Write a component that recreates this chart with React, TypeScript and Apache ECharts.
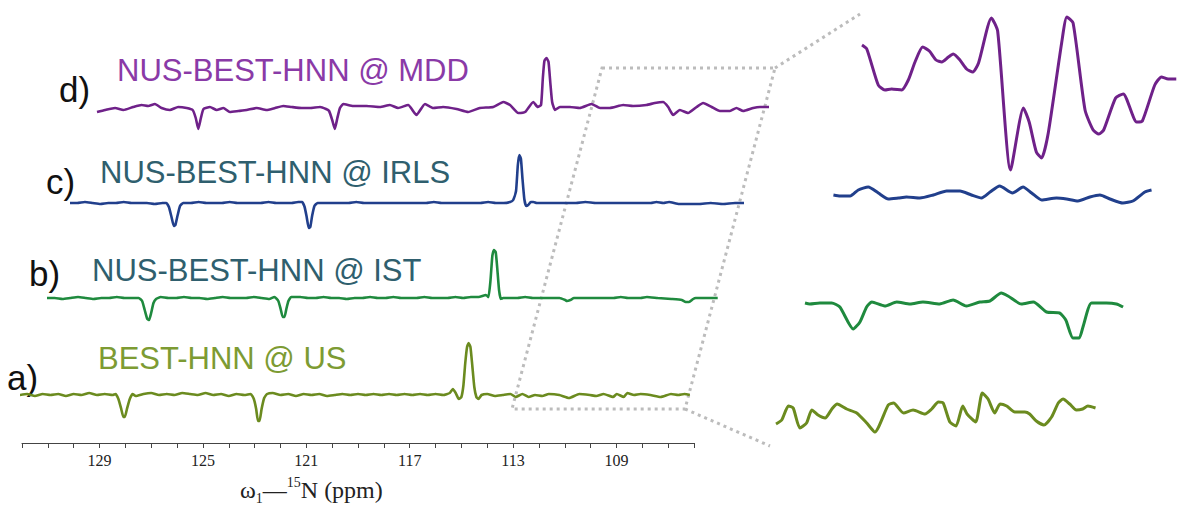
import React, { useEffect, useRef } from "react";
import * as echarts from "echarts";

// ---------- Data (ppm, intensity) ----------
const TICK_LABELS = [129, 125, 121, 117, 113, 109];

const SPEC_A_US = [
  [132.08, 0], [131.8, 1], [131.5, -1], [131.2, 1], [130.9, 0], [130.6, 1], [130.3, -1], [130.0, 1], [129.7, 0], [129.4, 2],
  [129.1, 0], [128.8, 1], [128.5, 0], [128.38, 1], [128.27, -4], [128.16, -14], [128.08, -22], [128.02, -22], [127.94, -14],
  [127.83, -4], [127.72, 1], [127.6, -1], [127.3, 1], [127.0, 2], [126.7, 0], [126.4, 1], [126.1, 0], [125.8, 2], [125.5, 1],
  [125.2, 0], [124.9, 2], [124.6, 0], [124.3, 1], [124.0, -1], [123.7, 1], [123.4, 0], [123.15, 1], [123.03, -4], [122.94, -14],
  [122.87, -26], [122.81, -26], [122.73, -14], [122.63, -3], [122.52, 1], [122.3, 2], [122.0, 0], [121.7, 1], [121.4, -1],
  [121.1, 1], [120.8, 0], [120.5, 1], [120.2, -1], [119.9, 0], [119.6, 1], [119.3, 0], [119.0, 1], [118.7, 0], [118.4, 1],
  [118.1, 0], [117.8, 1], [117.5, 0], [117.2, 1], [116.9, 0], [116.6, 1], [116.3, 0], [116.0, 1], [115.7, 0], [115.45, 2],
  [115.33, 6], [115.22, 2], [115.1, -4], [115.0, -2], [114.92, 10], [114.85, 32], [114.78, 48], [114.72, 52], [114.65, 48],
  [114.58, 30], [114.5, 8], [114.42, -2], [114.34, -4], [114.22, 0], [114.0, 1], [113.7, -1], [113.4, 0], [113.1, 1],
  [112.9, -2], [112.64, 1], [112.4, -2], [112.15, 0], [111.87, -1], [111.62, 1], [111.21, 0], [110.83, -3], [110.44, 1],
  [110.03, 0], [109.78, -1], [109.5, 1], [109.13, -2], [108.99, 1], [108.72, -2], [108.58, 2], [108.32, 0], [108.07, 1],
  [107.69, 0], [107.29, -2], [106.89, 1], [106.61, 0], [106.37, 1], [106.16, 0],
];

const SPEC_B_IST = [
  [132.0, 0], [131.7, 0], [131.4, -1], [131.1, 0], [130.8, 1], [130.5, 0], [130.2, -1], [129.9, 0], [129.6, 0], [129.3, 1],
  [129.0, 0], [128.7, 0], [128.45, 0], [128.32, -3], [128.22, -12], [128.12, -21], [128.05, -22], [127.97, -15], [127.88, -5],
  [127.78, -1], [127.6, 1], [127.3, 0], [127.0, 0], [126.7, 1], [126.4, 0], [126.1, 0], [125.8, -1], [125.5, 0], [125.2, 1],
  [124.9, 0], [124.6, 0], [124.3, 0], [124.0, 1], [123.7, 0], [123.4, -1], [123.2, 1], [123.05, -3], [122.96, -11],
  [122.88, -19], [122.81, -19], [122.74, -11], [122.66, -3], [122.55, 1], [122.2, 1], [121.9, 0], [121.6, 0], [121.3, 1],
  [121.0, 0], [120.7, 0], [120.4, -1], [120.1, 0], [119.8, 0], [119.5, 1], [119.2, 0], [118.9, 0], [118.6, 1], [118.3, 0],
  [118.0, 0], [117.7, 0], [117.4, 1], [117.1, 0], [116.8, 0], [116.5, 0], [116.2, 1], [115.9, 0], [115.6, 1], [115.3, 1],
  [115.02, 3], [114.92, 1], [114.84, 18], [114.77, 42], [114.71, 48], [114.64, 46], [114.58, 30], [114.51, 8], [114.44, -1],
  [114.35, 0], [114.1, 0], [113.8, 0], [113.5, 1], [113.2, 0], [112.9, 0], [112.34, 0], [112.17, 0], [111.95, -2],
  [111.89, -3], [111.75, -2], [111.61, 0], [111.23, 0], [110.7, 0], [110.08, 0], [109.8, 1], [109.52, 0], [109.03, 0],
  [108.79, 1], [108.37, 0], [107.84, -1], [107.44, -2], [107.29, -4], [107.16, -4], [107.0, -1], [106.9, 0], [106.59, 0],
  [106.05, 0],
];

const SPEC_C_IRLS = [
  [132.08, 0], [131.8, 0], [131.5, 1], [131.2, 0], [130.9, -1], [130.6, 0], [130.3, 0], [130.0, 1], [129.7, 0], [129.4, 0],
  [129.1, 0], [128.8, -1], [128.5, 0], [128.35, 0], [128.25, -4], [128.15, -14], [128.06, -23], [128.0, -22], [127.92, -13],
  [127.82, -3], [127.7, 0], [127.4, 0], [127.1, 1], [126.8, 0], [126.5, 0], [126.2, 0], [125.9, 1], [125.6, 0], [125.3, 0],
  [125.0, 0], [124.7, 0], [124.4, 1], [124.1, 0], [123.8, 0], [123.5, 0], [123.25, 1], [123.1, 1], [123.0, -4],
  [122.92, -14], [122.84, -25], [122.78, -24], [122.71, -13], [122.62, -3], [122.5, 0], [122.2, 0], [121.9, 0], [121.6, 0],
  [121.3, 0], [121.0, 1], [120.7, 0], [120.4, 0], [120.1, 0], [119.8, 0], [119.5, 0], [119.2, 0], [118.9, 0], [118.6, 0],
  [118.3, 0], [118.0, 1], [117.7, 0], [117.4, 0], [117.1, 0], [116.8, 0], [116.5, 0], [116.2, 0], [115.9, 1], [115.6, 0],
  [115.3, 0], [115.05, 1], [114.93, 3], [114.82, 12], [114.75, 38], [114.69, 48], [114.63, 44], [114.57, 24], [114.5, 4],
  [114.43, -3], [114.35, -2], [114.25, 1], [114.15, 1], [114.02, 0], [113.7, 0], [113.4, 0], [113.1, 0], [112.9, 0],
  [112.5, 0], [112.14, 1], [111.72, 0], [111.3, 0], [110.78, 0], [110.36, 0], [109.98, 0], [109.6, 0], [109.39, 1],
  [109.12, 0], [108.9, 1], [108.51, -1], [107.75, -1], [107.29, 0], [106.81, -1], [106.35, 0], [106.0, 0],
];

const SPEC_D_MDD = [
  [132.0, -4], [131.69, -2], [131.3, 0], [130.98, -2], [130.6, 1], [130.27, 3], [130.02, 2], [129.76, 4], [129.5, 0],
  [129.18, -2], [128.86, 1], [128.53, 0], [128.3, -2], [128.18, -10], [128.08, -21], [127.98, -10], [127.88, -1],
  [127.63, 1], [127.37, -2], [127.11, 0], [126.86, -4], [126.53, -3], [126.21, -2], [125.82, 0], [125.44, -2], [125.11, 0],
  [124.79, 2], [124.47, 1], [124.08, 0], [123.76, 0], [123.37, 1], [123.14, -1], [123.02, -3], [122.9, -12], [122.8, -21],
  [122.7, -10], [122.6, 0], [122.47, 4], [122.09, 2], [121.57, 2], [121.05, 1], [120.67, 3], [120.35, 0], [119.96, 3],
  [119.64, -7], [119.31, 4], [118.99, 0], [118.61, 1], [118.09, -1], [117.64, -4], [117.19, 0], [116.67, 1], [116.28, 6],
  [116.02, 3], [115.7, -5], [115.44, -4], [115.12, 6], [114.95, 1], [114.82, 3], [114.75, 30], [114.69, 47], [114.61, 50],
  [114.53, 46], [114.46, 25], [114.39, 6], [114.28, -2], [114.09, 1], [113.7, 1], [113.32, 0], [112.87, 4], [112.54, 0],
  [112.16, 0], [111.64, 3], [111.26, 2], [110.74, 3], [110.42, 5], [110.1, 6], [109.9, 1], [109.71, -7], [109.45, -2],
  [109.13, -5], [108.8, 1], [108.55, 5], [108.22, 1], [107.9, -3], [107.51, -3], [107.26, 0], [107.0, -3], [106.61, 0],
  [106.35, 1], [106.0, 1],
];

// Zoomed region (112.9 – 106.2 ppm), magnified
const ZOOM_A_US = [
  [112.9, -14], [112.78, -10], [112.64, 4], [112.54, 2], [112.4, -18], [112.26, -13], [112.15, 0], [112.02, -5],
  [111.87, -8], [111.73, 1], [111.62, 6], [111.42, 1], [111.21, -3], [111.0, -13], [110.83, -22], [110.55, 5],
  [110.44, 7], [110.23, -3], [110.03, 0], [109.78, -4], [109.64, 1], [109.5, 8], [109.4, 7], [109.26, -12],
  [109.13, -16], [108.99, 4], [108.9, -4], [108.72, -12], [108.58, 17], [108.46, 11], [108.32, -3], [108.21, 6],
  [108.07, 4], [107.9, -2], [107.69, -2], [107.59, -4], [107.45, -11], [107.29, -15], [107.13, -7], [106.99, 7],
  [106.89, 11], [106.75, 6], [106.61, 0], [106.48, 1], [106.37, 4], [106.21, 2],
];
const ZOOM_B_IST = [
  [112.9, 2], [112.8, 1], [112.59, 2], [112.34, 2], [112.17, -2], [111.89, -24], [111.75, -17], [111.61, -2], [111.5, 3],
  [111.23, -1], [110.98, 3], [110.7, 1], [110.43, 3], [110.08, 1], [109.8, 5], [109.52, -1], [109.24, 3], [109.03, 4],
  [108.79, 12], [108.65, 9], [108.37, 1], [108.12, 3], [107.84, -7], [107.57, -8], [107.44, -15], [107.29, -33],
  [107.16, -33], [107.08, -22], [106.9, 2], [106.59, 2], [106.38, 1], [106.24, -2],
];
const ZOOM_C_IRLS = [
  [112.87, 0], [112.73, -1], [112.52, -1], [112.35, 5], [112.14, 8], [111.93, 2], [111.72, -4], [111.51, -3], [111.34, -2],
  [111.06, -3], [110.78, 0], [110.5, 4], [110.22, 4], [109.98, 0], [109.77, -3], [109.59, 3], [109.39, 9], [109.12, 2],
  [108.9, 8], [108.72, 2], [108.51, -5], [108.2, -3], [107.99, -4], [107.75, -6], [107.5, -2], [107.29, 0], [107.08, -4],
  [106.81, -8], [106.6, -6], [106.35, 3], [106.21, 5],
];
const ZOOM_D_MDD = [
  [112.9, 45], [112.8, 41], [112.56, 5], [112.42, 0], [112.28, 1], [112.07, 0], [111.93, 10], [111.79, 28], [111.63, 43],
  [111.49, 39], [111.35, 30], [111.23, 28], [111.09, 33], [110.99, 36], [110.85, 30], [110.71, 21], [110.58, 18],
  [110.46, 27], [110.19, 72], [110.06, 59], [109.79, -80], [109.52, -18], [109.4, -32], [109.25, -62], [109.14, -68],
  [109.0, -43], [108.72, 47], [108.61, 73], [108.48, 67], [108.23, -20], [108.06, -40], [107.94, -44], [107.84, -40],
  [107.59, -8], [107.43, -4], [107.15, -32], [107.03, -31], [106.77, 5], [106.63, 13], [106.49, 11], [106.32, 11],
];

const PANEL_LETTERS = ["a)", "b)", "c)", "d)"];
const PANEL_TITLES = ["BEST-HNN @ US", "NUS-BEST-HNN @ IST", "NUS-BEST-HNN @ IRLS", "NUS-BEST-HNN @ MDD"];

// ---------- styling ----------
const TRACE_COLORS = ["#6b8b1f", "#1f8a3e", "#213f8c", "#6f2189"];
const TITLE_COLORS = ["#7d9b33", "#2f5f6e", "#2f5f6e", "#8a3aa7"];
const MAIN_LEFT = [22, 47, 72, 97];
const MAIN_TOP = [333, 236, 141, 46];
const ZOOM_GRIDS = [
  { left: 776, top: 391, height: 43, min: -24, max: 19 },
  { left: 805, top: 291, height: 50, min: -36, max: 14 },
  { left: 832, top: 185, height: 20, min: -10, max: 10 },
  { left: 862, top: 12, height: 163, min: -85, max: 78 },
];
const LETTER_POS = [[7, 377], [29, 273], [46, 181], [59, 89]];
const TITLE_POS = [[98, 358], [92, 270], [100, 172], [117, 70]];

function buildOption() {
  const specs = [SPEC_A_US, SPEC_B_IST, SPEC_C_IRLS, SPEC_D_MDD];
  const zooms = [ZOOM_A_US, ZOOM_B_IST, ZOOM_C_IRLS, ZOOM_D_MDD];
  const grid: any[] = [];
  const xAxis: any[] = [];
  const yAxis: any[] = [];
  const series: any[] = [];

  for (let i = 0; i < 4; i++) {
    grid.push({ left: MAIN_LEFT[i], top: MAIN_TOP[i], width: 672, height: 110, outerBoundsMode: "none" });
    xAxis.push({
      type: "value",
      gridIndex: i,
      position: "bottom",
      min: 106,
      max: 132,
      interval: 1,
      inverse: true,
      show: i === 0,
      splitLine: { show: false },
      axisLine: { show: true, onZero: false, lineStyle: { color: "#444", width: 1 } },
      axisTick: { show: true, length: 5, lineStyle: { color: "#444", width: 1 } },
      axisLabel: {
        margin: 9,
        fontFamily: "Liberation Serif",
        fontSize: 16,
        color: "#222",
        formatter: (v: number) => (TICK_LABELS.indexOf(v) >= 0 ? String(v) : ""),
      },
    });
    yAxis.push({ type: "value", gridIndex: i, min: -48, max: 62, show: false, splitLine: { show: false } });
    series.push({
      type: "line",
      xAxisIndex: i,
      yAxisIndex: i,
      data: specs[i],
      showSymbol: false,
      smooth: 0.15,
      lineStyle: { color: TRACE_COLORS[i], width: 2.6 },
      z: 3,
    });
  }
  for (let i = 0; i < 4; i++) {
    const g = ZOOM_GRIDS[i];
    const idx = 4 + i;
    grid.push({ left: g.left, top: g.top, width: 320, height: g.height, outerBoundsMode: "none" });
    xAxis.push({ type: "value", gridIndex: idx, min: 106.2, max: 112.9, inverse: true, show: false, splitLine: { show: false } });
    yAxis.push({ type: "value", gridIndex: idx, min: g.min, max: g.max, show: false, splitLine: { show: false } });
    series.push({
      type: "line",
      xAxisIndex: idx,
      yAxisIndex: idx,
      data: zooms[i],
      showSymbol: false,
      smooth: 0.2,
      clip: false,
      lineStyle: { color: TRACE_COLORS[i], width: 3 },
      z: 3,
    });
  }

  const dot = { stroke: "#bcbcbc", lineWidth: 3, lineDash: [3, 4], fill: null };
  const graphic: any[] = [
    { type: "polygon", shape: { points: [[602, 68], [775, 68], [685, 409], [512, 409]] }, style: { ...dot }, z: 1 },
    { type: "polyline", shape: { points: [[775, 68], [860, 14]] }, style: { ...dot }, z: 1 },
    { type: "polyline", shape: { points: [[685, 409], [770, 446]] }, style: { ...dot }, z: 1 },
  ];
  for (let i = 0; i < 4; i++) {
    graphic.push({
      type: "text",
      x: LETTER_POS[i][0],
      y: LETTER_POS[i][1],
      style: {
        text: PANEL_LETTERS[i],
        fontFamily: "Liberation Sans",
        fontSize: 35,
        fill: "#111",
        verticalAlign: "middle",
        textVerticalAlign: "middle",
      },
    });
    graphic.push({
      type: "text",
      x: TITLE_POS[i][0],
      y: TITLE_POS[i][1],
      style: {
        text: PANEL_TITLES[i],
        fontFamily: "Liberation Sans",
        fontSize: 31,
        fill: TITLE_COLORS[i],
        verticalAlign: "middle",
        textVerticalAlign: "middle",
      },
    });
  }
  graphic.push({
    type: "text",
    x: 240,
    y: 490,
    style: {
      text: "{w|ω}{sb|1}{w|—}{sp|15}{w|N (ppm)}",
      verticalAlign: "middle",
      textVerticalAlign: "middle",
      rich: {
        w: { fontFamily: "Liberation Serif", fontSize: 24, fill: "#222", lineHeight: 30 },
        sb: { fontFamily: "Liberation Serif", fontSize: 14, fill: "#222", verticalAlign: "bottom", lineHeight: 17 },
        sp: { fontFamily: "Liberation Serif", fontSize: 14, fill: "#222", verticalAlign: "top", lineHeight: 17 },
      },
    },
  });

  return { animation: false, backgroundColor: "#fff", grid, xAxis, yAxis, series, graphic };
}

export default function App() {
  const ref = useRef<HTMLDivElement>(null);
  useEffect(() => {
    if (!ref.current) return;
    const chart = echarts.init(ref.current, null, { renderer: "svg" });
    chart.setOption(buildOption() as any);
    return () => chart.dispose();
  }, []);
  return (
    <div
      ref={ref}
      style={{ position: "fixed", left: 0, top: 0, width: 1177, height: 509, background: "#fff" }}
    />
  );
}
